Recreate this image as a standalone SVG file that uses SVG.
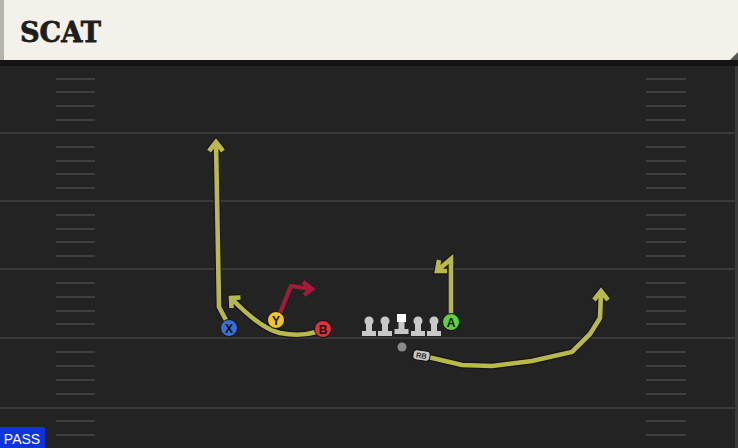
<svg xmlns="http://www.w3.org/2000/svg" width="738" height="448" viewBox="0 0 738 448">
<defs>
<style>
.yl{stroke:#393939;stroke-width:2}
.hm{stroke:#3f3f3f;stroke-width:2}
.ro{fill:none;stroke:#161616;stroke-width:7;stroke-linejoin:miter;stroke-linecap:butt}
.ry{fill:none;stroke:#b9b84c;stroke-width:4.6;stroke-linejoin:miter;stroke-linecap:butt}
.rr{fill:none;stroke:#a51b37;stroke-width:4.2;stroke-linejoin:miter}
.pl{stroke:#111;stroke-width:1}
.lt{font-family:"Liberation Sans",Arial,sans-serif;font-size:12px;font-weight:bold;fill:#111;text-anchor:middle}
.ol{fill:#c8c8c8}
</style>
</defs>
<rect width="738" height="448" fill="#232323"/>
<rect x="735" y="60" width="3" height="388" fill="#3a3a3a"/>
<g id="field">
<line class="yl" x1="0" y1="133" x2="738" y2="133"/>
<line class="yl" x1="0" y1="201" x2="738" y2="201"/>
<line class="yl" x1="0" y1="269" x2="738" y2="269"/>
<line class="yl" x1="0" y1="338" x2="738" y2="338"/>
<line class="yl" x1="0" y1="408" x2="738" y2="408"/>
<g id="hashes">
<path class="hm" d="M56 79H95M56 92H95M56 106H95M56 120H95M56 147H95M56 161H95M56 174H95M56 188H95M56 215H95M56 229H95M56 242H95M56 256H95M56 283H95M56 297H95M56 311H95M56 324H95M56 352H95M56 366H95M56 380H95M56 394H95M56 421H95M56 435H95"/>
<path class="hm" d="M646 79H686M646 92H686M646 106H686M646 120H686M646 147H686M646 161H686M646 174H686M646 188H686M646 215H686M646 229H686M646 242H686M646 256H686M646 283H686M646 297H686M646 311H686M646 324H686M646 352H686M646 366H686M646 380H686M646 394H686M646 421H686M646 435H686"/>
</g>
</g>
<g id="header">
<rect x="0" y="59" width="738" height="7" fill="#141414"/>
<rect x="0" y="0" width="738" height="60" fill="#f4f1ea"/>
<rect x="0" y="0" width="4" height="60" fill="#b5b3ad"/>
<polygon points="730,60 738,52 738,60" fill="#555"/>
<text x="20" y="42" font-family="'DejaVu Serif',serif" font-weight="900" font-size="28" fill="#1e1e1e" stroke="#1e1e1e" stroke-width="0.8" textLength="81" lengthAdjust="spacingAndGlyphs">SCAT</text>
</g>
<g id="connectors">
<path class="ro" d="M227 322L219 307L216 143M209 151L216 142L223 151"/>
<path class="ry" d="M227 322L219 307L216 143M209 151L216 142L223 151"/>
<path class="ro" d="M316 332Q300 337 280 333Q260 328 232 299M231.5 308L231 298L240.5 297.5"/>
<path class="ry" d="M316 332Q300 337 280 333Q260 328 232 299M231.5 308L231 298L240.5 297.5"/>
<path class="rr" d="M280 313L291 286L311 289M303 282L312 289L304 295"/>
<path class="ro" d="M451 315L451 259L438 270M439 260L437 271L447 271"/>
<path class="ry" d="M451 315L451 259L438 270M439 260L437 271L447 271"/>
<path class="ro" d="M428 357L462 365L492 366L532 361L572 352L590 334L600 318L601 292M594 300L601 291L608 300"/>
<path class="ry" d="M428 357L462 365L492 366L532 361L572 352L590 334L600 318L601 292M594 300L601 291L608 300"/>
</g>
<g id="player-X"><circle class="pl" cx="229" cy="328" r="8.5" fill="#3b6fd3"/><text class="lt" x="229" y="332.5">X</text></g>
<g id="player-Y"><circle class="pl" cx="276" cy="320" r="8.5" fill="#f1c52a"/><text class="lt" x="276" y="324.5">Y</text></g>
<g id="player-B"><circle class="pl" cx="323" cy="329" r="8.5" fill="#e0323e"/><text class="lt" x="323" y="333.5">B</text></g>
<g id="player-A"><circle class="pl" cx="451" cy="322" r="8.5" fill="#5fd13c"/><text class="lt" x="451" y="326.5">A</text></g>
<g id="line">
<g id="lt1"><circle class="ol" cx="369" cy="321" r="4.5"/><rect class="ol" x="366" y="321" width="6" height="11"/><rect class="ol" x="362" y="331" width="14" height="5"/></g>
<g id="lt2"><circle class="ol" cx="385" cy="321" r="4.5"/><rect class="ol" x="382" y="321" width="6" height="11"/><rect class="ol" x="378" y="331" width="14" height="5"/></g>
<g id="center"><rect x="397" y="314" width="9" height="8" fill="#fafafa"/><rect class="ol" x="398.5" y="322" width="6" height="8"/><rect class="ol" x="394.5" y="329" width="14" height="5"/></g>
<g id="lt4"><circle class="ol" cx="418" cy="321" r="4.5"/><rect class="ol" x="415" y="321" width="6" height="11"/><rect class="ol" x="411" y="331" width="14" height="5"/></g>
<g id="lt5"><circle class="ol" cx="434" cy="321" r="4.5"/><rect class="ol" x="431" y="321" width="6" height="11"/><rect class="ol" x="427" y="331" width="14" height="5"/></g>
</g>
<g id="qb"><circle cx="402" cy="347" r="4.5" fill="#8a8a8a"/></g>
<g id="rb"><g transform="rotate(8 421.5 355.5)"><rect x="413" y="350.5" width="17" height="10" rx="3.5" fill="#c8c8c8" stroke="#111" stroke-width="1"/><text x="421.5" y="358.3" font-family="'Liberation Sans',Arial,sans-serif" font-size="7.5" font-weight="bold" fill="#333" text-anchor="middle">RB</text></g></g>
<g id="pass"><rect x="0" y="427" width="45" height="21" fill="#1133dd"/><text x="22" y="444" font-family="'Liberation Sans',Arial,sans-serif" font-size="14" fill="#ffffff" text-anchor="middle">PASS</text></g>
</svg>
